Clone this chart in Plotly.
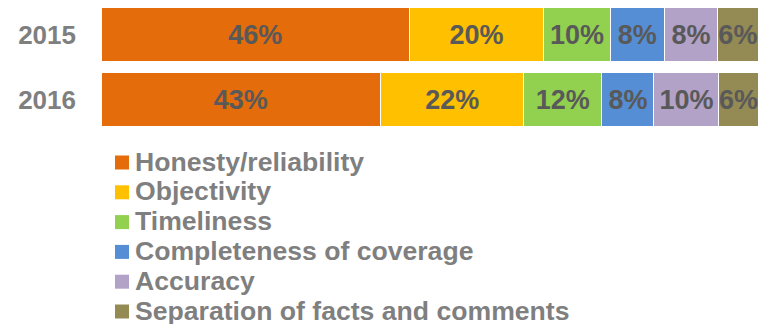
import plotly.graph_objects as go

years = ["2015", "2016"]
criteria = [
    "Honesty/reliability",
    "Objectivity",
    "Timeliness",
    "Completeness of coverage",
    "Accuracy",
    "Separation of facts and comments",
]
share_2015 = [46, 20, 10, 8, 8, 6]
share_2016 = [43, 22, 12, 8, 10, 6]
colors = ["#E46C0A", "#FFC000", "#92D050", "#558ED5", "#B3A2C7", "#948A54"]

FONT = "Liberation Sans, Arial, sans-serif"
W, H = 768, 324
M_L, M_R, M_T, M_B = 101, 10, 2, 192
PLOT_W = W - M_L - M_R
PLOT_H = H - M_T - M_B


def px_x(px):
    return (px - M_L) / PLOT_W


def px_y(py):
    return (H - M_B - py) / PLOT_H


fig = go.Figure()
for i, name in enumerate(criteria):
    vals = [share_2015[i], share_2016[i]]
    fig.add_trace(go.Bar(
        y=years,
        x=vals,
        name=name,
        orientation="h",
        marker=dict(color=colors[i], line=dict(color="white", width=1)),
        text=[f"{v}%" for v in vals],
        textposition="inside",
        insidetextanchor="middle",
        textangle=0,
        textfont=dict(family=FONT, size=27, color="#595959", weight="bold"),
        hoverinfo="skip",
        showlegend=False,
    ))

# Legend below the bars: one coloured square and label per criterion
ROW0, ROW_STEP = 161.5, 29.8
shapes, annotations = [], []
for i, name in enumerate(criteria):
    cy = ROW0 + ROW_STEP * i
    shapes.append(dict(
        type="rect", xref="paper", yref="paper",
        x0=px_x(115), x1=px_x(129), y0=px_y(cy + 8), y1=px_y(cy - 6),
        fillcolor=colors[i], line=dict(width=0),
    ))
    annotations.append(dict(
        xref="paper", yref="paper", x=px_x(133), y=px_y(cy),
        xanchor="left", yanchor="middle", showarrow=False,
        text=name,
        font=dict(family=FONT, size=26.6, color="#7F7F7F", weight="bold"),
    ))

fig.update_layout(
    width=W,
    height=H,
    barmode="stack",
    barnorm="percent",
    bargap=0.17,
    margin=dict(l=M_L, r=M_R, t=M_T, b=M_B),
    paper_bgcolor="white",
    plot_bgcolor="white",
    uniformtext=dict(minsize=27, mode="show"),
    showlegend=False,
    shapes=shapes,
    annotations=annotations,
)
fig.update_xaxes(visible=False, range=[0, 100], fixedrange=True)
fig.update_yaxes(
    autorange="reversed",
    showgrid=False,
    showline=False,
    ticks="",
    ticklabelstandoff=24,
    tickfont=dict(family=FONT, size=26, color="#7F7F7F", weight="bold"),
    fixedrange=True,
)

fig.write_html("out.html")
